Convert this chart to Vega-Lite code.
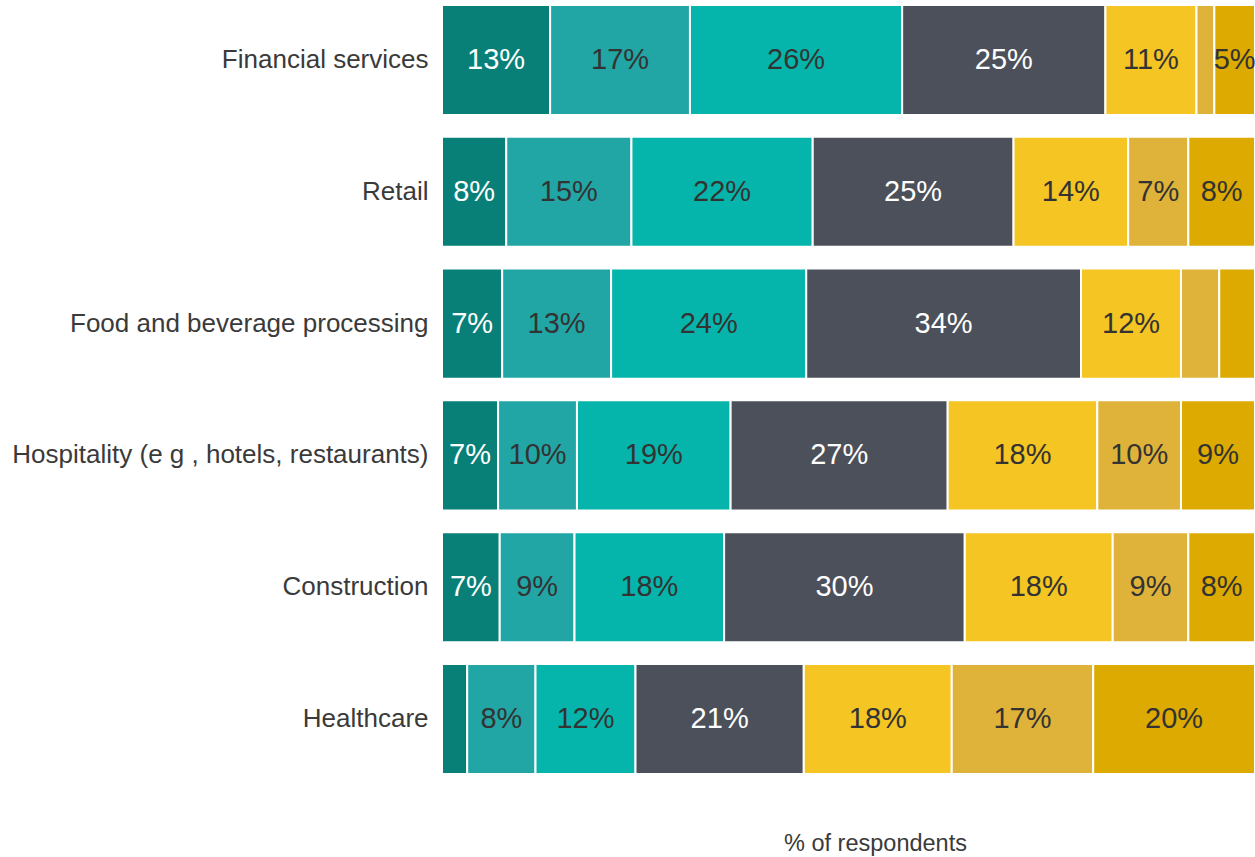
{
  "$schema": "https://vega.github.io/schema/vega-lite/v6.json",
  "width": 813,
  "height": 779,
  "autosize": {"type": "none"},
  "padding": {"left": 442, "top": 0, "right": 0, "bottom": 78},
  "background": "white",
  "config": {"view": {"stroke": null}, "font": "Liberation Sans"},
  "data": {"values": [
    {"category": "Financial services", "seg": 1, "value": 13.3},
    {"category": "Financial services", "seg": 2, "value": 17.2},
    {"category": "Financial services", "seg": 3, "value": 26.1},
    {"category": "Financial services", "seg": 4, "value": 25.0},
    {"category": "Financial services", "seg": 5, "value": 11.2},
    {"category": "Financial services", "seg": 6, "value": 2.2},
    {"category": "Financial services", "seg": 7, "value": 5.0},
    {"category": "Retail", "seg": 1, "value": 7.9},
    {"category": "Retail", "seg": 2, "value": 15.4},
    {"category": "Retail", "seg": 3, "value": 22.3},
    {"category": "Retail", "seg": 4, "value": 24.7},
    {"category": "Retail", "seg": 5, "value": 14.1},
    {"category": "Retail", "seg": 6, "value": 7.4},
    {"category": "Retail", "seg": 7, "value": 8.2},
    {"category": "Food and beverage processing", "seg": 1, "value": 7.4},
    {"category": "Food and beverage processing", "seg": 2, "value": 13.4},
    {"category": "Food and beverage processing", "seg": 3, "value": 24.0},
    {"category": "Food and beverage processing", "seg": 4, "value": 33.8},
    {"category": "Food and beverage processing", "seg": 5, "value": 12.3},
    {"category": "Food and beverage processing", "seg": 6, "value": 4.7},
    {"category": "Food and beverage processing", "seg": 7, "value": 4.4},
    {"category": "Hospitality (e g , hotels, restaurants)", "seg": 1, "value": 6.9},
    {"category": "Hospitality (e g , hotels, restaurants)", "seg": 2, "value": 9.7},
    {"category": "Hospitality (e g , hotels, restaurants)", "seg": 3, "value": 18.9},
    {"category": "Hospitality (e g , hotels, restaurants)", "seg": 4, "value": 26.7},
    {"category": "Hospitality (e g , hotels, restaurants)", "seg": 5, "value": 18.4},
    {"category": "Hospitality (e g , hotels, restaurants)", "seg": 6, "value": 10.3},
    {"category": "Hospitality (e g , hotels, restaurants)", "seg": 7, "value": 9.1},
    {"category": "Construction", "seg": 1, "value": 7.1},
    {"category": "Construction", "seg": 2, "value": 9.2},
    {"category": "Construction", "seg": 3, "value": 18.4},
    {"category": "Construction", "seg": 4, "value": 29.6},
    {"category": "Construction", "seg": 5, "value": 18.2},
    {"category": "Construction", "seg": 6, "value": 9.3},
    {"category": "Construction", "seg": 7, "value": 8.2},
    {"category": "Healthcare", "seg": 1, "value": 3.1},
    {"category": "Healthcare", "seg": 2, "value": 8.4},
    {"category": "Healthcare", "seg": 3, "value": 12.3},
    {"category": "Healthcare", "seg": 4, "value": 20.7},
    {"category": "Healthcare", "seg": 5, "value": 18.2},
    {"category": "Healthcare", "seg": 6, "value": 17.4},
    {"category": "Healthcare", "seg": 7, "value": 19.9}
  ]},
  "transform": [
    {"stack": "value", "groupby": ["category"], "sort": [{"field": "seg", "order": "ascending"}], "as": ["x0", "x1"]},
    {"calculate": "(datum.x0 + datum.x1) / 2", "as": "mid"},
    {"calculate": "format(datum.value, '.0f') + '%'", "as": "label"}
  ],
  "encoding": {
    "y": {
      "field": "category", "type": "nominal",
      "sort": ["Financial services", "Retail", "Food and beverage processing", "Hospitality (e g , hotels, restaurants)", "Construction", "Healthcare"],
      "scale": {"paddingInner": 0.165, "paddingOuter": 0.038},
      "axis": {"title": null, "ticks": false, "domain": false, "labelPadding": 14, "labelFontSize": 26, "labelColor": "#3a3a3a", "labelFont": "Liberation Sans", "labelLimit": 600}
    }
  },
  "layer": [
    {
      "mark": {"type": "bar", "stroke": "white", "strokeWidth": 2},
      "encoding": {
        "x": {"field": "x0", "type": "quantitative", "scale": {"domain": [0, 100], "nice": false, "zero": true},
          "axis": {"title": "% of respondents", "labels": false, "ticks": false, "domain": false, "grid": false, "titlePadding": 52, "titleFontSize": 23.5, "titleFontWeight": "normal", "titleColor": "#3a3a3a", "titleFont": "Liberation Sans", "titleX": 433}},
        "x2": {"field": "x1"},
        "color": {"field": "seg", "type": "nominal", "legend": null,
          "scale": {"domain": [1, 2, 3, 4, 5, 6, 7], "range": ["#088078", "#21a6a5", "#05b5ab", "#4c505a", "#f4c523", "#dfb33a", "#dcaa00"]}}
      }
    },
    {
      "transform": [{"filter": "datum.value >= 4.9"}],
      "mark": {"type": "text", "fontSize": 29, "font": "Liberation Sans", "baseline": "middle", "align": "center"},
      "encoding": {
        "x": {"field": "mid", "type": "quantitative"},
        "text": {"field": "label"},
        "color": {"condition": {"test": "datum.seg == 1 || datum.seg == 4", "value": "white"}, "value": "#333333"}
      }
    }
  ]
}
